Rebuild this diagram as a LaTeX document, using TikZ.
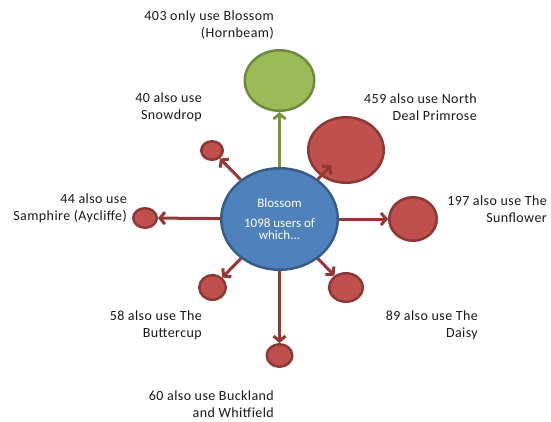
\documentclass[tikz,border=0pt]{standalone}
\usepackage{fontspec}
\setmainfont{Carlito}
\newfontfamily\userfont[LetterSpace=3]{Carlito}
\usetikzlibrary{shapes.geometric,arrows.meta}
\definecolor{blossomfill}{HTML}{4F81BD}
\definecolor{blossomline}{HTML}{385D8A}
\definecolor{onlyfill}{HTML}{9BBB59}
\definecolor{onlyline}{HTML}{71893F}
\definecolor{onlyarrow}{HTML}{77933C}
\definecolor{alsofill}{HTML}{C0504D}
\definecolor{alsoline}{HTML}{8C3836}
\definecolor{alsoarrow}{HTML}{953735}

\begin{document}
\begin{tikzpicture}[x=1pt,y=-1pt,
  site/.style={ellipse,draw=alsoline,fill=alsofill,line width=2.5pt,inner sep=0pt},
  users/.style={font=\userfont\fontsize{14}{17}\selectfont,align=right,anchor=east,inner sep=0pt,text=black!90},
  link/.style={draw=alsoarrow,line width=3pt,-{Straight Barb[length=5pt,width=12pt]}}]
\useasboundingbox (0,0) rectangle (551,421);
\node[site,draw=blossomline,fill=blossomfill,minimum width=116.5pt,minimum height=101.5pt,
  text=white,align=center,font=\fontsize{13}{11.5}\selectfont] (blossom) at (279.5,219)
  {Blossom\\[9pt]1098 users of\\which...};
\node[site,draw=onlyline,fill=onlyfill,minimum width=69.5pt,minimum height=60.5pt] (hornbeam) at (279.5,80.5) {};
\node[site,minimum width=75.5pt,minimum height=65.5pt] (primrose) at (346,150) {};
\node[site,minimum width=47.5pt,minimum height=43.5pt] (sunflower) at (413,219) {};
\node[site,minimum width=33.5pt,minimum height=28.5pt] (daisy) at (346,287.5) {};
\node[site,minimum width=25.5pt,minimum height=22.5pt] (buckland) at (279.5,355.5) {};
\node[site,minimum width=26.5pt,minimum height=24.5pt] (buttercup) at (212.5,287.5) {};
\node[site,minimum width=23.5pt,minimum height=19.5pt] (samphire) at (145,218) {};
\node[site,minimum width=21.5pt,minimum height=18.5pt] (snowdrop) at (212,150.5) {};
\draw[link,draw=onlyarrow] (blossom) -- (hornbeam);
\draw[link,shorten >=-15pt] (blossom) -- (primrose);
\draw[link] (blossom) -- (sunflower);
\draw[link] (blossom) -- (daisy);
\draw[link] (blossom) -- (buckland);
\draw[link] (blossom) -- (buttercup);
\draw[link] (blossom) -- (samphire);
\draw[link] (blossom) -- (snowdrop);
\node[users] (hornbeamtext) at (274,25) {403 only use Blossom\\(Hornbeam)};
\node[users] (primrosetext) at (477,107.5) {459 also use North\\Deal Primrose};
\node[users] (sunflowertext) at (547,209.5) {197 also use The\\Sunflower};
\node[users] (daisytext) at (478,325) {89 also use The\\Daisy};
\node[users] (bucklandtext) at (274,404.5) {60 also use Buckland\\and Whitfield};
\node[users] (buttercuptext) at (202,325) {58 also use The\\Buttercup};
\node[users] (samphiretext) at (127,208.5) {44 also use\\Samphire (Aycliffe)};
\node[users] (snowdroptext) at (202,107.5) {40 also use\\Snowdrop};
\end{tikzpicture}
\end{document}
